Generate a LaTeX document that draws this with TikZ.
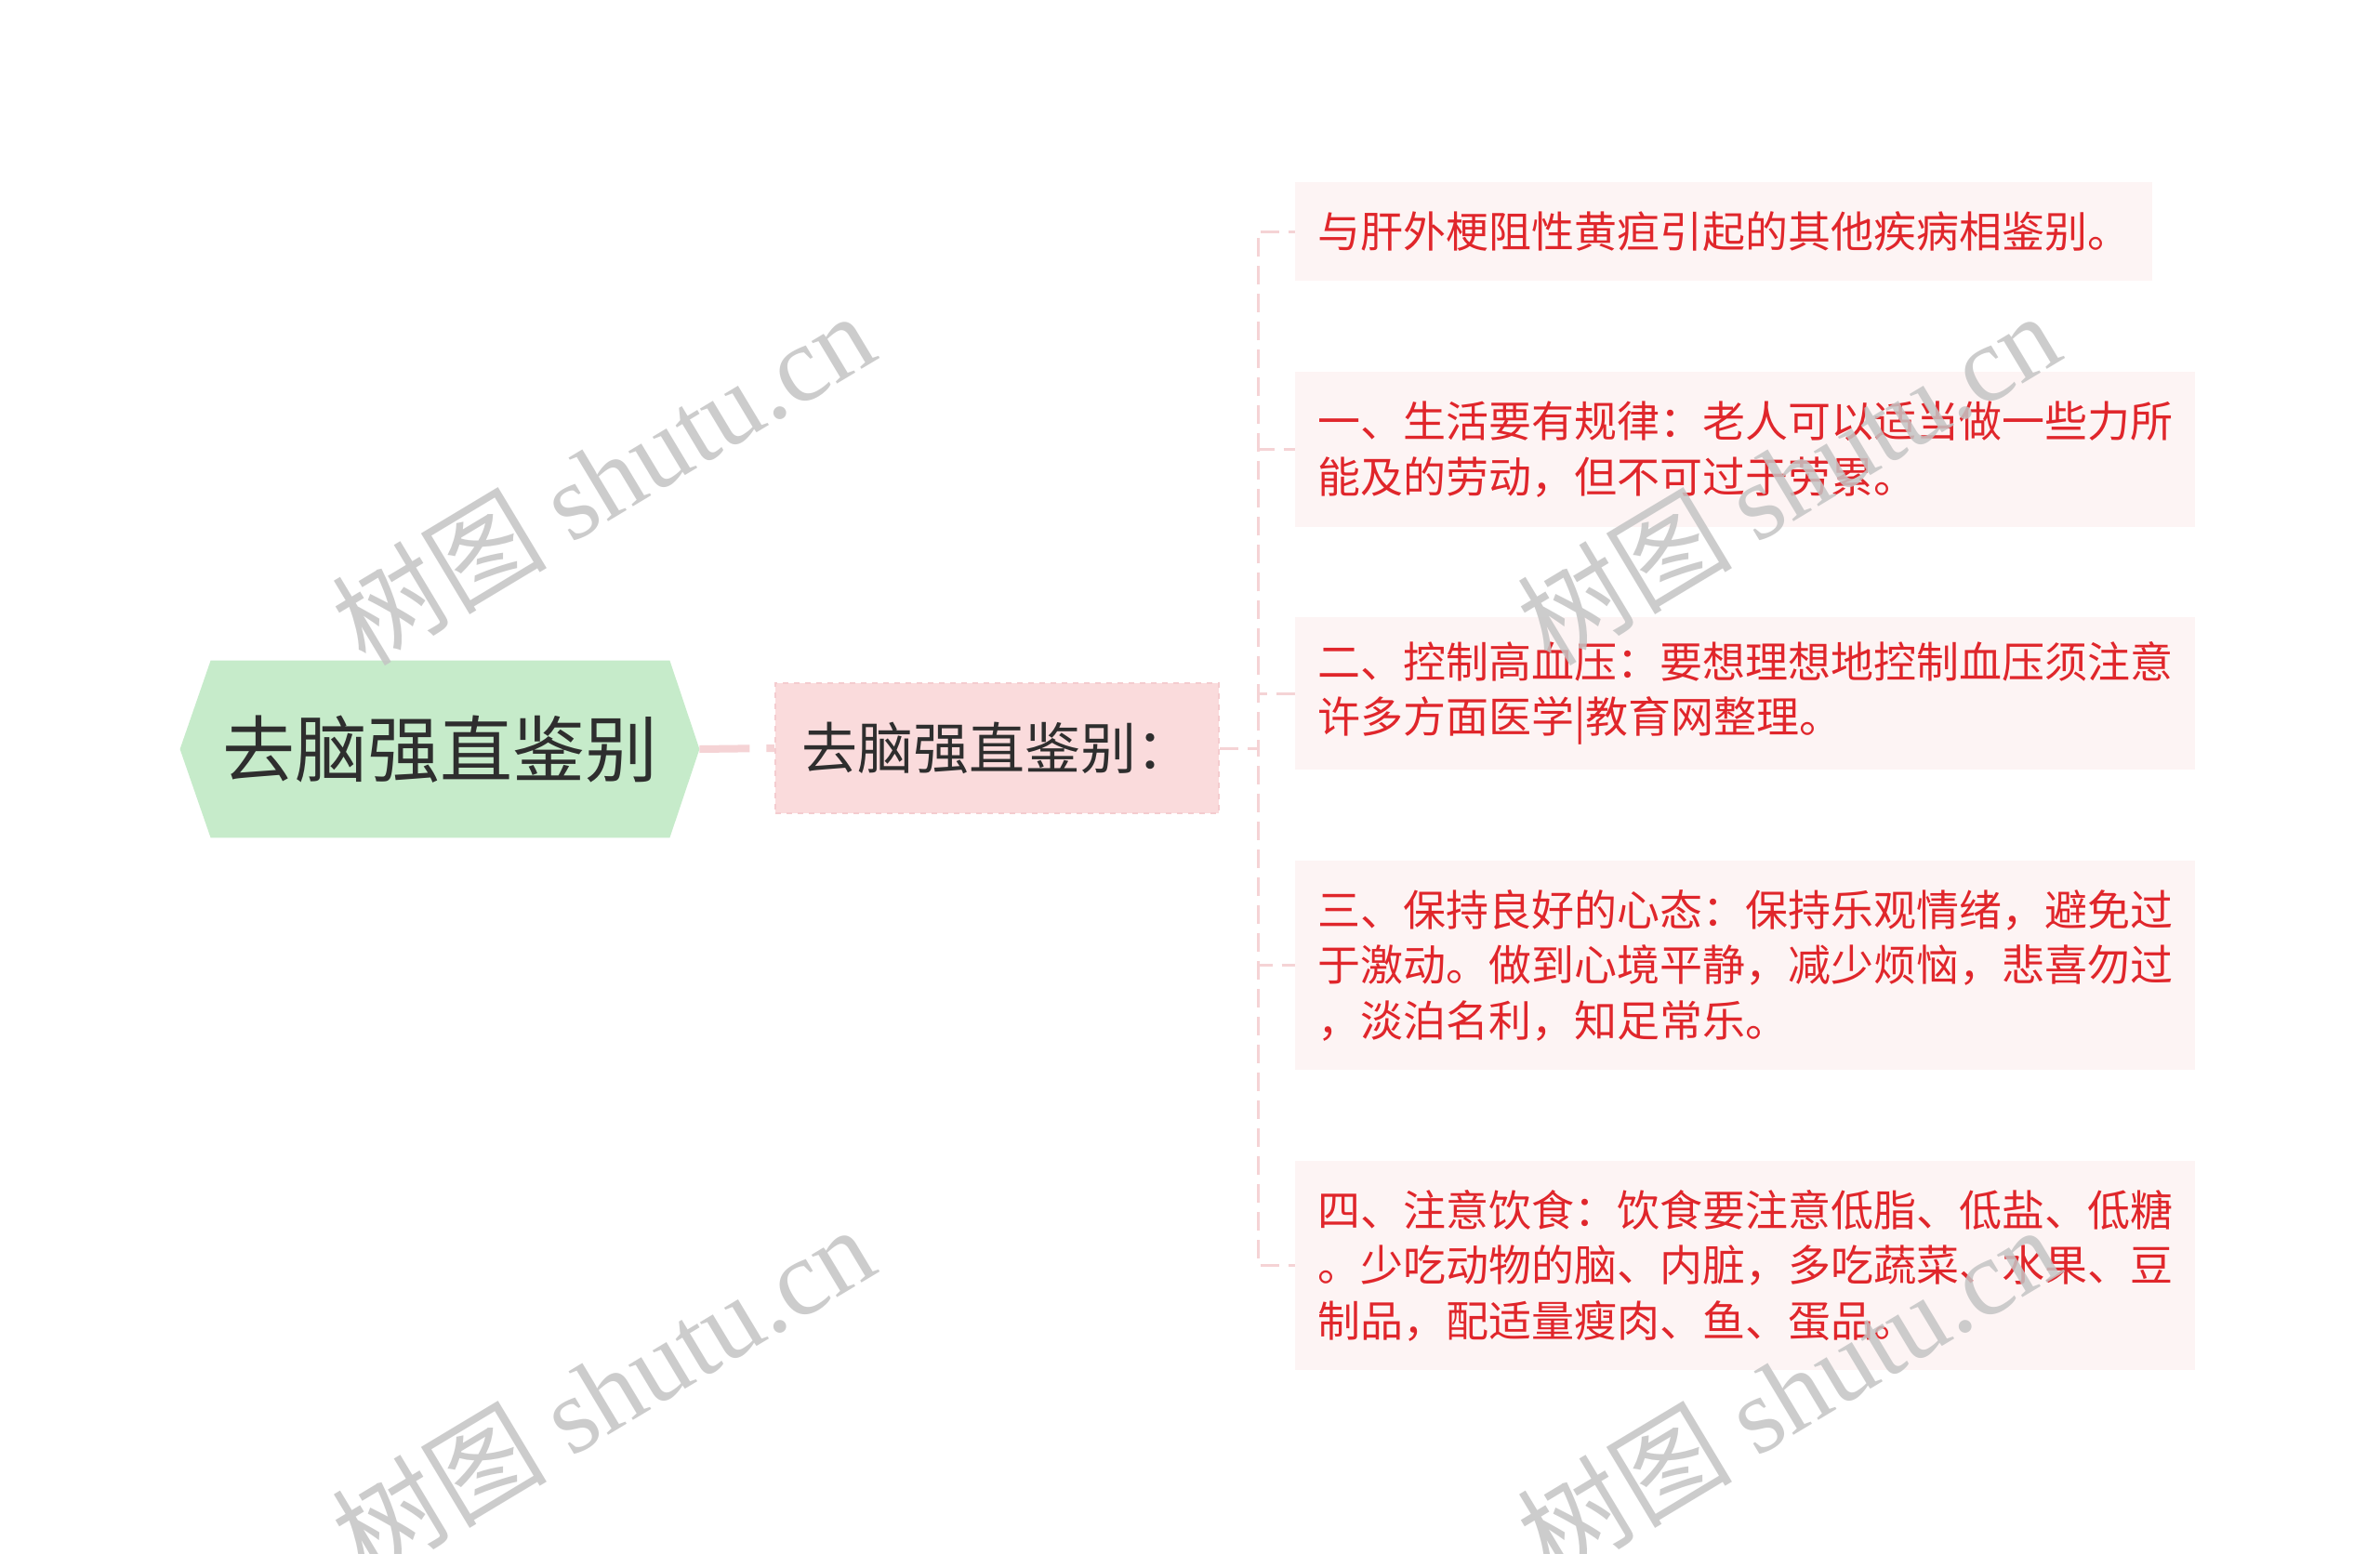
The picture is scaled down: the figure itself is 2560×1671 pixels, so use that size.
\documentclass[tikz,border=0pt]{standalone}
\usepackage{fontspec}
\setmainfont{Noto Sans CJK SC}
\newfontfamily\wmlatin{Liberation Serif}
\usetikzlibrary{backgrounds}
\definecolor{rootfill}{HTML}{C6EBCA}
\definecolor{roottext}{HTML}{2E2E2E}
\definecolor{childfill}{HTML}{FADBDC}
\definecolor{childline}{HTML}{F4CCCF}
\definecolor{leaffill}{HTML}{FDF4F4}
\definecolor{leaftext}{HTML}{E0262B}
\definecolor{connpink}{HTML}{F5D3D5}
\definecolor{wmgray}{HTML}{C4C4C4}
\begin{document}
\begin{tikzpicture}[x=0.5pt,y=-0.5pt,
  leaf/.style={anchor=west, fill=leaffill, text=leaftext, align=left, inner xsep=12pt, inner ysep=0pt,
    font=\fontsize{23pt}{29.75pt}\selectfont},
  conn/.style={draw=connpink, line width=1.5pt, dash pattern=on 10pt off 5pt},
  mainconn/.style={draw=connpink, line width=4pt, dash pattern=on 27pt off 9pt},
  wm/.style={text=wmgray, rotate=31, font=\fontsize{58pt}{58pt}\selectfont, opacity=0.85}]
\useasboundingbox (0,0) rectangle (2560,1671);

\node[font=\fontsize{39pt}{39pt}\selectfont, text=roottext, minimum width=279pt, minimum height=95pt, inner sep=0pt] (root) at (473,806) {去脑强直鉴别};
\begin{scope}[on background layer]
\fill[white] (0,0) rectangle (2560,1671);
\fill[rootfill] (root.west) -- ([xshift=16.5pt]root.north west) -- ([xshift=-16pt]root.north east) -- (root.east) -- ([xshift=-16pt]root.south east) -- ([xshift=16.5pt]root.south west) -- cycle;
\end{scope}

\node[fill=childfill, draw=childline, dashed, line width=1pt, minimum width=238.5pt, minimum height=70pt, inner sep=0pt, text=roottext, font=\fontsize{30pt}{30pt}\selectfont] (child) at (1072.5,805) {去脑强直鉴别：};

\node[leaf, minimum height=53pt] (leaf1) at (1393,249) {与肝外梗阻性黄疸引起的其他疾病相鉴别。};
\node[leaf, minimum height=83.5pt] (leaf2) at (1393,483.5) {一、生活要有规律：老人可以适当做一些力所\\能及的劳动，但不可过于劳累。};
\node[leaf, minimum height=82pt] (leaf3) at (1393,746) {二、控制高血压：要想理想地控制血压须注意\\许多方面医学|教育网整理。};
\node[leaf, minimum height=112.5pt] (leaf4) at (1393,1038.5) {三、保持良好的心态：保持乐观情绪，避免过\\于激动。做到心境平静，减少烦恼，悲喜勿过\\，淡泊名利，知足常乐。};
\node[leaf, minimum height=112.5pt] (leaf5) at (1393,1361.5) {四、注意饮食：饮食要注意低脂、低盐、低糖\\。少吃动物的脑、内脏，多吃蔬菜、水果、豆\\制品，配适量瘦肉、鱼、蛋品。};

\draw[mainconn] (root.east) -- (child.west);
\foreach \i in {1,...,5} {
  \draw[conn] (child.east) -- ++(41,0) |- (leaf\i.west);
}

\node[wm] (wm1) at (648,514) {树图 {\wmlatin shutu.cn}};
\node[wm] (wm2) at (1923,514) {树图 {\wmlatin shutu.cn}};
\node[wm] (wm3) at (648,1497) {树图 {\wmlatin shutu.cn}};
\node[wm] (wm4) at (1923,1497) {树图 {\wmlatin shutu.cn}};
\end{tikzpicture}
\end{document}
